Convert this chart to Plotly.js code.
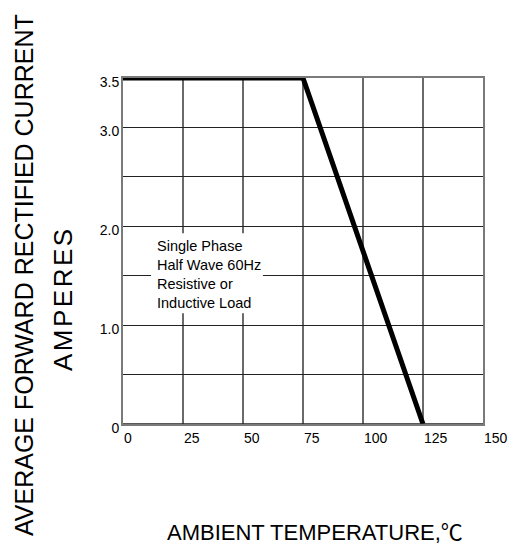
<!DOCTYPE html>
<html>
<head>
<meta charset="utf-8">
<script src="https://cdn.plot.ly/plotly-3.0.1.min.js"></script>
<style>html,body{margin:0;padding:0;background:#fff;}#chart{width:517px;height:549px;}</style>
</head>
<body>
<div id="chart"></div>
<script>
// Data
const temperature = [0, 75, 125];
const current = [3.5, 3.5, 0];
const xTickVals = [0, 25, 50, 75, 100, 125, 150];
const xTickText = ['0', '25', '50', '75', '100', '125', '150'];
const yTickVals = [0, 0.5, 1.0, 1.5, 2.0, 2.5, 3.0, 3.5];
const yTickText = ['0', '', '1.0', '', '2.0', '', '3.0', '3.5'];
const noteText = 'Single Phase<br>Half Wave 60Hz<br>Resistive or<br>Inductive Load';
const yTitle1 = 'AVERAGE FORWARD RECTIFIED CURRENT';
const yTitle2 = 'AMPERES';
const xTitle = 'AMBIENT TEMPERATURE,';

const font = 'Liberation Sans, Arial, sans-serif';

const trace = {
  x: temperature, y: current, type: 'scatter', mode: 'lines',
  line: {color: '#000', width: 5}, cliponaxis: false, hoverinfo: 'skip'
};

const layout = {
  width: 517, height: 549,
  margin: {l: 123, r: 34, t: 78, b: 125},
  paper_bgcolor: '#fff', plot_bgcolor: '#fff',
  showlegend: false,
  font: {family: font, color: '#000'},
  xaxis: {
    range: [0, 150], tickvals: xTickVals, ticktext: xTickText,
    showgrid: true, gridcolor: '#6a6a6a', gridwidth: 1.5,
    showline: true, linecolor: '#7a7a7a', linewidth: 2, mirror: true,
    zeroline: false, ticks: '', ticklabelposition: 'outside right',
    tickfont: {size: 14, family: font, color: '#000'}, fixedrange: true
  },
  yaxis: {
    range: [0, 3.5], tickvals: yTickVals, ticktext: yTickText,
    showgrid: true, gridcolor: '#222', gridwidth: 1.2,
    showline: true, linecolor: '#7a7a7a', linewidth: 2, mirror: true,
    zeroline: false, ticks: '', ticklabelstandoff: -1, ticklabelshift: 4,
    tickfont: {size: 14, family: font, color: '#000'}, fixedrange: true
  },
  shapes: [
    {type: 'line', xref: 'paper', yref: 'y', x0: 0, x1: 1, y0: 0, y1: 0,
     line: {color: '#222', width: 1.5}, layer: 'above'},
    {type: 'rect', xref: 'x', yref: 'y', x0: 11.7, x1: 58.3, y0: 1.12, y1: 1.93,
     fillcolor: '#fff', line: {width: 0}, layer: 'above'}
  ],
  annotations: [
    {text: noteText, xref: 'x', yref: 'y', x: 13.2, y: 1.517, xanchor: 'left', yanchor: 'middle',
     align: 'left', showarrow: false, font: {size: 14.5, family: font, color: '#000'}},
    {text: yTitle1, xref: 'paper', yref: 'paper', x: -0.275, y: 0.4306, textangle: -90,
     xanchor: 'center', yanchor: 'middle', showarrow: false,
     font: {size: 25, family: font, color: '#000'}},
    {text: '<span style="letter-spacing:2.5px">' + yTitle2 + '</span>', xref: 'paper', yref: 'paper',
     x: -0.168, y: 0.3627, textangle: -90,
     xanchor: 'center', yanchor: 'middle', showarrow: false,
     font: {size: 26, family: font, color: '#000'}},
    {text: xTitle + '<span style="font-family:Noto Sans CJK SC;font-size:22px">℃</span>',
     xref: 'paper', yref: 'paper', x: 0.1167, y: -0.306, xanchor: 'left', yanchor: 'middle',
     showarrow: false, font: {size: 22, family: font, color: '#000'}}
  ]
};

Plotly.newPlot('chart', [trace], layout, {displayModeBar: false, staticPlot: true});
</script>
</body>
</html>
